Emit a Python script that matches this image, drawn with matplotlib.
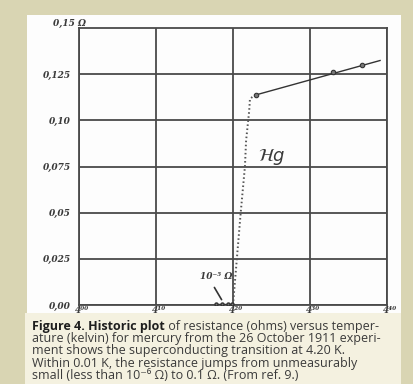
import matplotlib.pyplot as plt
from matplotlib.patches import Rectangle

# mercury resistance near 4.2 K (Onnes, 1911)
normal_T = [4.230, 4.330, 4.368]
normal_R = [0.1138, 0.1261, 0.1298]
trend_T = [4.230, 4.391]
trend_R = [0.1138, 0.1324]
transition_T = [4.200, 4.205, 4.210, 4.2155, 4.217, 4.221, 4.222, 4.226, 4.230]
transition_R = [0.000, 0.025, 0.050, 0.075, 0.089, 0.105, 0.1115, 0.113, 0.1138]
supercond_T = [4.178, 4.186, 4.193, 4.199]
supercond_R = [0.0008, 0.0008, 0.0008, 0.0008]

x_ticks = [4.00, 4.10, 4.20, 4.30, 4.40]
x_labels = ['4⁰⁰', '4¹⁰', '4²⁰', '4³⁰', '4⁴⁰']
y_ticks = [0.0, 0.025, 0.05, 0.075, 0.10, 0.125]
y_labels = ['0,00', '0,025', '0,05', '0,075', '0,10', '0,125']

caption_bold = 'Figure 4. Historic plot'
caption_lines = [
    ' of resistance (ohms) versus temper-',
    'ature (kelvin) for mercury from the 26 October 1911 experi-',
    'ment shows the superconducting transition at 4.20 K.',
    'Within 0.01 K, the resistance jumps from unmeasurably',
    'small (less than 10⁻⁶ Ω) to 0.1 Ω. (From ref. 9.)',
]

W, H = 413, 384
INK = '#3a3a3a'
CAP_FONT = ['Open Sans', 'DejaVu Sans']
CAP_SIZE = 9.0
hand = dict(family='DejaVu Serif', style='italic', weight='bold', color=INK)


def box(x0, y0, x1, y1):
    """pixel box (top-left origin) -> figure fraction rect"""
    return [x0 / W, 1 - y1 / H, (x1 - x0) / W, (y1 - y0) / H]


fig = plt.figure(figsize=(W / 100, H / 100), dpi=100)
fig.patch.set_facecolor('#d9d5b3')

r = box(27, 15, 401, 313)
fig.add_artist(Rectangle(r[:2], r[2], r[3], transform=fig.transFigure,
                         facecolor='#fdfdfd', edgecolor='none', zorder=0))
r = box(25, 313, 401, 384)
fig.add_artist(Rectangle(r[:2], r[2], r[3], transform=fig.transFigure,
                         facecolor='#f4f1e0', edgecolor='none', zorder=0))

ax = fig.add_axes(box(79, 28, 387, 305))
ax.set_facecolor('none')
ax.set_xlim(4.0, 4.4)
ax.set_ylim(0, 0.15)

for s in ax.spines.values():
    s.set_color('#4a4a4a')
    s.set_linewidth(1.3)
ax.set_xticks(x_ticks)
ax.set_xticklabels([])
ax.set_yticks(y_ticks)
ax.set_yticklabels(y_labels, fontsize=6.5, **hand)
ax.tick_params(length=0, pad=6)
ax.grid(True, color='#4a4a4a', linewidth=1.3)
ax.set_axisbelow(True)

ax.text(-0.085, 1.0, '0,15 Ω', transform=ax.transAxes, fontsize=6.5,
        ha='left', va='bottom', **hand)
for t, lab in zip(x_ticks, x_labels):
    ax.text(t + 0.004, -0.0008, lab, fontsize=6.5, ha='center', va='top',
            **hand)

# measured curve
ax.plot(trend_T, trend_R, color='#333333', lw=1.0, zorder=3)
ax.plot(normal_T, normal_R, 'o', ms=3.2, mfc='#777777', mec='#333333',
        mew=0.8, zorder=4)
ax.plot(transition_T, transition_R, color='#555555', lw=1.4,
        linestyle=(0, (0.8, 1.3)), zorder=3)
ax.plot(supercond_T, supercond_R, '-o', color='#333333', lw=1.0, ms=2.2,
        mfc='#777777', zorder=4)

ax.annotate('', xy=(4.187, 0.0016), xytext=(4.174, 0.0108),
            arrowprops=dict(arrowstyle='-', color='#333333', lw=1.2))
ax.text(4.178, 0.0152, '10⁻⁵ Ω', fontsize=6.5, ha='center', va='center',
        **hand)
ax.text(4.251, 0.0801, r'$\mathcal{H}g$', fontsize=13, ha='center',
        va='center', color=INK)

# caption
x0, y0 = 32 / W, 1 - 333 / H
step = 12.2 / H
first = fig.text(x0, y0, caption_bold, fontsize=CAP_SIZE, family=CAP_FONT,
                 weight='bold', color='#1e1e1e', va='bottom')
ax.annotate(caption_lines[0], xy=(1, 0), xycoords=first, fontsize=CAP_SIZE,
            family=CAP_FONT, color=INK, va='bottom', ha='left',
            annotation_clip=False)
for i, line in enumerate(caption_lines[1:], start=1):
    fig.text(x0, y0 - i * step, line, fontsize=CAP_SIZE, family=CAP_FONT,
             color=INK, va='bottom')

fig.savefig('out.png', dpi=100, facecolor=fig.get_facecolor())
